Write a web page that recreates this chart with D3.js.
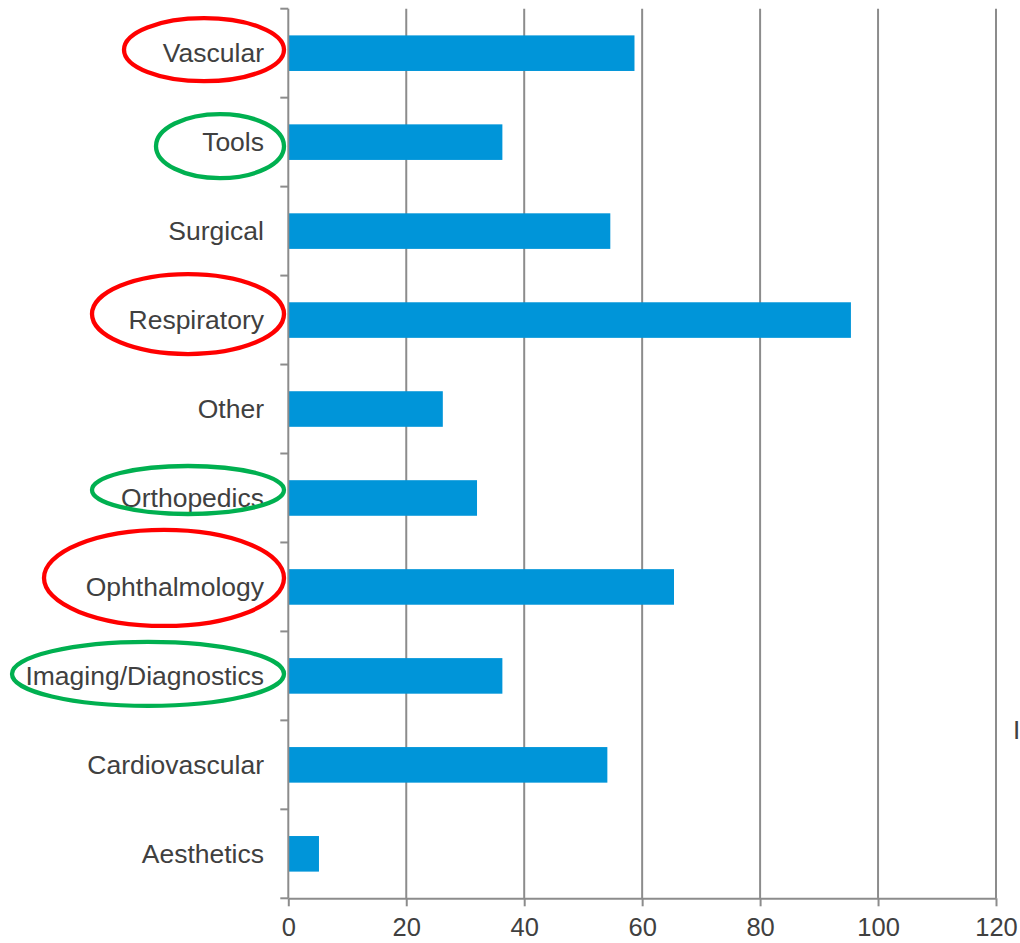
<!DOCTYPE html>
<html>
<head>
<meta charset="utf-8">
<script src="https://cdn.jsdelivr.net/npm/d3@7"></script>
<style>
  html, body { margin: 0; padding: 0; background: #fff; }
  svg text { font-family: "Liberation Sans", Arial, sans-serif; fill: #404040; }
</style>
</head>
<body>
<svg id="chart" width="1020" height="943"></svg>
<script>
// Categories, top to bottom
const categories = ["Vascular", "Tools", "Surgical", "Respiratory", "Other",
  "Orthopedics", "Ophthalmology", "Imaging/Diagnostics", "Cardiovascular", "Aesthetics"];
// Bar values
const values = [58.7, 36.3, 54.6, 95.4, 26.2, 32.0, 65.4, 36.3, 54.1, 5.2];
// X axis tick values
const xTicks = [0, 20, 40, 60, 80, 100, 120];
// Highlighted categories and their ring colour group
const highlighted = ["Vascular", "Tools", "Respiratory", "Orthopedics", "Ophthalmology", "Imaging/Diagnostics"];
const highlightGroup = ["red", "green", "red", "green", "red", "green"];

// Ring geometry per highlighted label (centre x, offset from band centre, radii)
const ringShape = {
  "Vascular":            { cx: 204, dy: -3.5, rx: 80,  ry: 31.5 },
  "Tools":               { cx: 220, dy: 4,    rx: 64,  ry: 32 },
  "Respiratory":         { cx: 188, dy: -6,   rx: 96,  ry: 40 },
  "Orthopedics":         { cx: 188, dy: -8,   rx: 96,  ry: 24 },
  "Ophthalmology":       { cx: 164, dy: -9,   rx: 120, ry: 48 },
  "Imaging/Diagnostics": { cx: 148, dy: -2,   rx: 136, ry: 32 }
};
const ringColor = { red: "#ff0000", green: "#00b050" };

const svg = d3.select("#chart");
const plotLeft = 288.3, plotRight = 996, plotTop = 8.7, plotBottom = 898.3;
const gridColor = "#8c8c8c";

const x = d3.scaleLinear().domain([0, 120]).range([plotLeft, plotRight]);
const y = d3.scaleBand().domain(categories).range([plotTop, plotBottom])
  .paddingInner(0.6).paddingOuter(0.3);

// Vertical gridlines
svg.append("g").selectAll("line").data(xTicks.filter(d => d > 0)).join("line")
  .attr("x1", d => x(d)).attr("x2", d => x(d))
  .attr("y1", plotTop).attr("y2", plotBottom)
  .attr("stroke", gridColor).attr("stroke-width", 2);

// Bars
svg.append("g").selectAll("rect").data(categories).join("rect")
  .attr("x", x(0))
  .attr("y", d => y(d))
  .attr("width", (d, i) => x(values[i]) - x(0))
  .attr("height", y.bandwidth())
  .attr("fill", "#0095d9");

// Bottom axis
const xAxis = d3.axisBottom(x).tickValues(xTicks).tickSize(8).tickPadding(12).tickSizeOuter(0);
const gx = svg.append("g").attr("transform", `translate(0,${plotBottom})`).call(xAxis);
gx.select(".domain").attr("stroke", gridColor).attr("stroke-width", 2);
gx.selectAll(".tick line").attr("stroke", gridColor).attr("stroke-width", 2);
gx.selectAll(".tick text").attr("font-size", 25.5).style("fill", "#404040")
  .attr("font-family", "Liberation Sans, Arial, sans-serif");

// Left axis: ticks on band boundaries
const bounds = d3.range(categories.length + 1).map(i => plotTop + i * y.step());
const gy = svg.append("g");
gy.append("line").attr("x1", plotLeft).attr("x2", plotLeft).attr("y1", plotTop).attr("y2", plotBottom)
  .attr("stroke", gridColor).attr("stroke-width", 2);
gy.selectAll("line.tk").data(bounds).join("line").attr("class", "tk")
  .attr("x1", plotLeft - 8).attr("x2", plotLeft).attr("y1", d => d).attr("y2", d => d)
  .attr("stroke", gridColor).attr("stroke-width", 2);

// Category labels
svg.append("g").selectAll("text").data(categories).join("text")
  .attr("x", 264)
  .attr("y", d => y(d) + y.bandwidth() / 2)
  .attr("dy", "0.35em")
  .attr("text-anchor", "end")
  .attr("font-size", 26.5)
  .text(d => d);

// Rings around highlighted labels
svg.append("g").selectAll("ellipse").data(highlighted).join("ellipse")
  .attr("cx", d => ringShape[d].cx)
  .attr("cy", d => y(d) + y.bandwidth() / 2 + ringShape[d].dy)
  .attr("rx", d => ringShape[d].rx)
  .attr("ry", d => ringShape[d].ry)
  .attr("fill", "none")
  .attr("stroke", (d, i) => ringColor[highlightGroup[i]])
  .attr("stroke-width", 4.3);

// Stray cursor mark on the right edge
svg.append("text").attr("x", 1013).attr("y", 739).attr("font-size", 26).text("I");
</script>
</body>
</html>
